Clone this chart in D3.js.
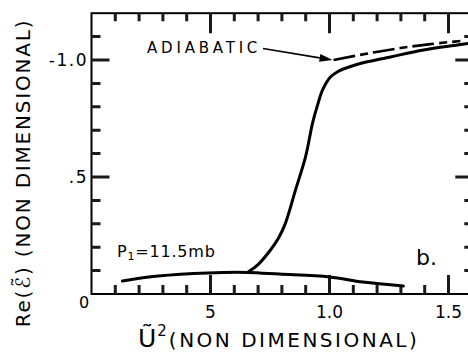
<!DOCTYPE html>
<html>
<head>
<meta charset="utf-8">
<script src="https://cdn.jsdelivr.net/npm/d3@7"></script>
<style>
  html, body { margin: 0; padding: 0; background: #fff; }
  svg { display: block; }
  text { font-family: "DejaVu Sans", "Liberation Sans", sans-serif; fill: #000; }
</style>
</head>
<body>
<svg id="chart" width="468" height="354"></svg>
<script>
// Real part of the dielectric response vs. squared reduced velocity
const lowerU2 = [0.13, 0.28, 0.49, 0.655, 0.79, 1.00, 1.14, 1.31];
const lowerRe = [-0.056, -0.077, -0.090, -0.092, -0.085, -0.073, -0.051, -0.034];

const upperU2 = [0.655, 0.702, 0.752, 0.786, 0.815, 0.857, 0.899, 0.929, 0.950, 0.971, 1.004, 1.034, 1.076, 1.118, 1.256, 1.395, 1.538, 1.60];
const upperRe = [-0.092, -0.128, -0.188, -0.239, -0.303, -0.444, -0.585, -0.731, -0.808, -0.872, -0.927, -0.950, -0.968, -0.982, -1.013, -1.043, -1.064, -1.073];

const adiabaticU2 = [1.017, 1.172, 1.298, 1.424, 1.55];
const adiabaticRe = [-1.0, -1.030, -1.051, -1.068, -1.081];

const xMajor = [0.5, 1.0, 1.5];
const xMinor = [0.1, 0.2, 0.3, 0.4, 0.6, 0.7, 0.8, 0.9, 1.1, 1.2, 1.3, 1.4];
const yMajor = [-0.5, -1.0];
const yMinor = [-0.1, -0.2, -0.3, -0.4, -0.6, -0.7, -0.8, -0.9, -1.1];
const xTickLabels = ["5", "1.0", "1.5"];
const yTickLabels = [".5", "-1.0"];

const svg = d3.select("#chart");
const x = d3.scaleLinear().domain([0, 1.6]).range([91.5, 472.3]);
const y = d3.scaleLinear().domain([0, -1.2]).range([294, 13.2]);
const X0 = x(0), X1 = x(1.6);
const Y0 = y(0), Y1 = y(-1.2);

// frame
svg.append("rect")
  .attr("x", X0).attr("y", Y1)
  .attr("width", X1 - X0).attr("height", Y0 - Y1)
  .attr("fill", "none").attr("stroke", "black").attr("stroke-width", 2);

// inward ticks on all four sides
const tickColor = "#1a1a1a";
const tickPath = d3.path();
function addXTicks(values, lenBottom, lenTop) {
  values.forEach(v => {
    const px = x(v);
    tickPath.moveTo(px, Y0); tickPath.lineTo(px, Y0 - lenBottom);
    tickPath.moveTo(px, Y1); tickPath.lineTo(px, Y1 + lenTop);
  });
}
function addYTicks(values, lenLeft, lenRight) {
  values.forEach(v => {
    const py = y(v);
    tickPath.moveTo(X0, py); tickPath.lineTo(X0 + lenLeft, py);
    tickPath.moveTo(X1, py); tickPath.lineTo(X1 - lenRight, py);
  });
}
addXTicks(xMajor, 19, 20);
addXTicks(xMinor, 9, 8);
addYTicks(yMajor, 18, 17);
addYTicks(yMinor, 9, 8);
svg.append("path").attr("d", tickPath.toString())
  .attr("fill", "none").attr("stroke", tickColor).attr("stroke-width", 3);

// tick labels
svg.append("g").selectAll("text").data(xMajor).join("text")
  .attr("x", d => x(d)).attr("y", 318)
  .attr("text-anchor", "middle").attr("font-size", 17)
  .text((d, i) => xTickLabels[i]);
svg.append("g").selectAll("text").data(yMajor).join("text")
  .attr("x", 88).attr("y", d => y(d) + 6)
  .attr("text-anchor", "end").attr("font-size", 17).attr("letter-spacing", 1.5)
  .text((d, i) => yTickLabels[i]);
svg.append("text").attr("x", 84).attr("y", 308)
  .attr("text-anchor", "middle").attr("font-size", 16).text("0");

// curves
const line = d3.line().x(d => x(d[0])).y(d => y(d[1])).curve(d3.curveCatmullRom.alpha(0.5));
const lower = d3.zip(lowerU2, lowerRe);
const upper = d3.zip(upperU2, upperRe);
const adiabatic = d3.zip(adiabaticU2, adiabaticRe);

const plot = svg.append("g");
plot.append("path").attr("d", line(lower))
  .attr("fill", "none").attr("stroke", "black").attr("stroke-width", 3).attr("stroke-linecap", "round");
plot.append("path").attr("d", line(upper))
  .attr("fill", "none").attr("stroke", "black").attr("stroke-width", 3).attr("stroke-linecap", "round");
plot.append("path").attr("d", line(adiabatic))
  .attr("fill", "none").attr("stroke", "black").attr("stroke-width", 2.6)
  .attr("stroke-dasharray", "22,5,8,5");

// ADIABATIC label with arrow
svg.append("text").attr("x", 147).attr("y", 53)
  .attr("font-size", 15).attr("letter-spacing", 3.8).text("ADIABATIC");
const tip = [x(adiabaticU2[0]) - 1, y(adiabaticRe[0])];
const tail = [263, 48.5];
const ang = Math.atan2(tip[1] - tail[1], tip[0] - tail[0]);
const hl = 13, hw = 4;
const base = [tip[0] - hl * Math.cos(ang), tip[1] - hl * Math.sin(ang)];
svg.append("line")
  .attr("x1", tail[0]).attr("y1", tail[1]).attr("x2", base[0]).attr("y2", base[1])
  .attr("stroke", "black").attr("stroke-width", 1.6);
svg.append("path")
  .attr("d", `M${tip[0]},${tip[1]}L${base[0] + hw * Math.sin(ang)},${base[1] - hw * Math.cos(ang)}L${base[0] - hw * Math.sin(ang)},${base[1] + hw * Math.cos(ang)}Z`)
  .attr("fill", "black");

// pressure label
const p = svg.append("text").attr("x", 117).attr("y", 257).attr("font-size", 16).attr("letter-spacing", 0.8);
p.append("tspan").text("P");
p.append("tspan").attr("font-size", 11).attr("dy", 3).text("1");
p.append("tspan").attr("dy", -3).text("=11.5mb");

// panel label
svg.append("text").attr("x", 416).attr("y", 265).attr("font-size", 22).text("b.");

// axis titles
const xt = svg.append("text").attr("x", 138).attr("y", 347).attr("font-size", 20);
xt.append("tspan").attr("font-size", 25).text("Ũ");
xt.append("tspan").attr("font-size", 15).attr("dy", -11).attr("dx", 1).text("2");
xt.append("tspan").attr("dy", 11).attr("dx", 2).attr("letter-spacing", 2.5).text("(NON DIMENSIONAL)");

svg.append("text")
  .attr("transform", "translate(30,173) rotate(-90)")
  .attr("text-anchor", "middle").attr("font-size", 20).attr("letter-spacing", 1.8)
  .text("Re(ℰ\u0303) (NON DIMENSIONAL)");
</script>
</body>
</html>
